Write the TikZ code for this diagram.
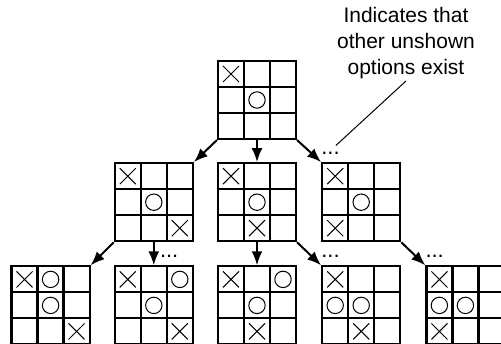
\documentclass[tikz,border=0pt]{standalone}
\usepackage{fontspec}
\setmainfont{Liberation Sans}
\usetikzlibrary{arrows.meta,positioning,matrix}

\begin{document}
\begin{tikzpicture}[
    x=1pt,y=1pt,
    cell/.style={draw,line width=2.2pt,minimum size=26pt,inner sep=0pt,outer sep=0pt},
    xc/.style={cell,path picture={\draw[line width=1pt]
        ([shift={(-8pt,-8pt)}]path picture bounding box.center) -- ([shift={(8pt,8pt)}]path picture bounding box.center)
        ([shift={(-8pt,8pt)}]path picture bounding box.center) -- ([shift={(8pt,-8pt)}]path picture bounding box.center);}},
    oc/.style={cell,path picture={\draw[line width=1pt]
        (path picture bounding box.center) circle[radius=8.2pt];}},
    board/.style={matrix of nodes,nodes in empty cells,nodes={cell},
      column sep=-2.2pt,row sep=-2.2pt,inner sep=0pt,outer sep=0pt},
    arr/.style={-{Latex[length=14pt,width=11pt]},line width=2pt},
    dots/.style={font=\fontsize{22}{25}\selectfont,inner sep=0pt,anchor=base west},
    note/.style={font=\fontsize{21}{26}\selectfont,align=center,inner sep=2pt},
    callout/.style={line width=1pt}
  ]
    \useasboundingbox (0,0) rectangle (501,-344);

    % root position
    \matrix[board] (b0) at (257,-100) {
      |[xc]| & & \\
      & |[oc]| & \\
      & & \\
    };

    % second level
    \matrix[board,below=22pt of b0] (b2) {
      |[xc]| & & \\
      & |[oc]| & \\
      & |[xc]| & \\
    };
    \matrix[board,left=23pt of b2] (b1) {
      |[xc]| & & \\
      & |[oc]| & \\
      & & |[xc]| \\
    };
    \matrix[board,right=24pt of b2] (b3) {
      |[xc]| & & \\
      & |[oc]| & \\
      |[xc]| & & \\
    };

    % third level
    \matrix[board,below=23pt of b1] (c2) {
      |[xc]| & & |[oc]| \\
      & |[oc]| & \\
      & & |[xc]| \\
    };
    \matrix[board,left=23pt of c2] (c1) {
      |[xc]| & |[oc]| & \\
      & |[oc]| & \\
      & & |[xc]| \\
    };
    \matrix[board,below=23pt of b2] (c3) {
      |[xc]| & & |[oc]| \\
      & |[oc]| & \\
      & |[xc]| & \\
    };
    \matrix[board,below=23pt of b3] (c4) {
      |[xc]| & & \\
      |[oc]| & |[oc]| & \\
      & |[xc]| & \\
    };
    \matrix[board,right=24pt of c4] (c5) {
      |[xc]| & & \\
      |[oc]| & |[oc]| & \\
      |[xc]| & & \\
    };

    \draw[arr] (b0.south west)--(b1.north east);
    \draw[arr] (b0.south)--(b2.north);
    \draw[arr] (b0.south east)--(b3.north west);
    \draw[arr] (b1.south west)--(c1.north east);
    \draw[arr] (b1.south)--(c2.north);
    \draw[arr] (b2.south)--(c3.north);
    \draw[arr] (b2.south east)--(c4.north west);
    \draw[arr] (b3.south east)--(c5.north west);

    % unshown options
    \node[dots] (d0) at ([yshift=8pt]b3.north west) {...};
    \node[dots] (d1) at ([shift={(6pt,8pt)}]c2.north) {...};
    \node[dots] (d2) at ([yshift=8pt]c4.north west) {...};
    \node[dots] (d3) at ([yshift=8pt]c5.north west) {...};

    \node[note] (note) at (406,-43) {Indicates that\\other unshown\\options exist};
    \coordinate (tip) at ([shift={(-4pt,6pt)}]d0.north east);
    \draw[callout] (note.south)--(tip);
  \end{tikzpicture}
\end{document}
